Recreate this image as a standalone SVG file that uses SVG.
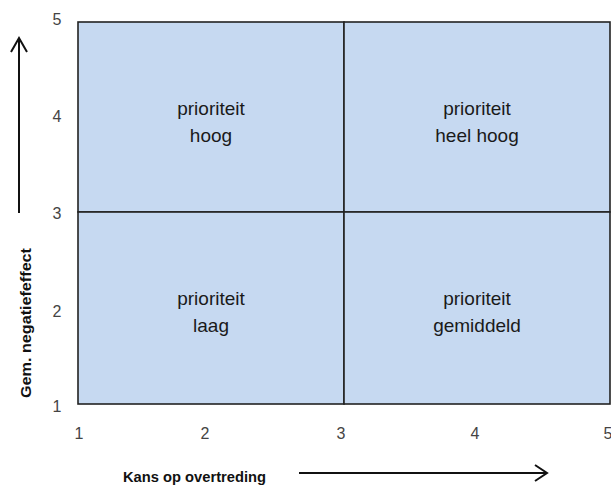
<svg xmlns="http://www.w3.org/2000/svg" width="611" height="489" viewBox="0 0 611 489">
<style>
.q{font-family:"Liberation Sans",Arial,sans-serif;font-size:19px;fill:#1a1a1a;text-anchor:middle}
.t{font-family:"Liberation Sans",Arial,sans-serif;font-size:16px;fill:#444;text-anchor:middle}
.ax{font-family:"Liberation Sans",Arial,sans-serif;font-size:15.5px;font-weight:bold;fill:#111}
.cell{fill:#C6D9F1;stroke:#222;stroke-width:1.6}
.arr{fill:none;stroke:#111;stroke-width:2}
</style>
<rect width="611" height="489" fill="#fff"/>
<g id="q-hoog"><rect class="cell" x="78" y="22" width="266" height="190"/><text class="q" x="211" y="115">prioriteit</text><text class="q" x="211" y="142">hoog</text></g>
<g id="q-heelhoog"><rect class="cell" x="344" y="22" width="266" height="190"/><text class="q" x="477" y="115">prioriteit</text><text class="q" x="477" y="142">heel hoog</text></g>
<g id="q-laag"><rect class="cell" x="78" y="212" width="266" height="192"/><text class="q" x="211" y="305">prioriteit</text><text class="q" x="211" y="332">laag</text></g>
<g id="q-gemiddeld"><rect class="cell" x="344" y="212" width="266" height="192"/><text class="q" x="477" y="305">prioriteit</text><text class="q" x="477" y="332">gemiddeld</text></g>
<g id="ticks">
<text class="t" x="57" y="25">5</text>
<text class="t" x="57" y="122">4</text>
<text class="t" x="57" y="219">3</text>
<text class="t" x="57" y="317">2</text>
<text class="t" x="57" y="412">1</text>
<text class="t" x="79" y="439">1</text>
<text class="t" x="205" y="439">2</text>
<text class="t" x="341" y="439">3</text>
<text class="t" x="475" y="439">4</text>
<text class="t" x="608" y="439">5</text>
</g>
<g id="connectors">
<path class="arr" d="M19 213V38M11 52L19 38L27 52"/>
<path class="arr" d="M299 473H547M535 465L547 473L535 481"/>
</g>
<g id="labels">
<text class="ax" x="123" y="482" textLength="143" lengthAdjust="spacingAndGlyphs">Kans op overtreding</text>
<text class="ax" transform="translate(31 398) rotate(-90)" x="0" y="0" textLength="150" lengthAdjust="spacingAndGlyphs">Gem. negatiefeffect</text>
</g>
</svg>
